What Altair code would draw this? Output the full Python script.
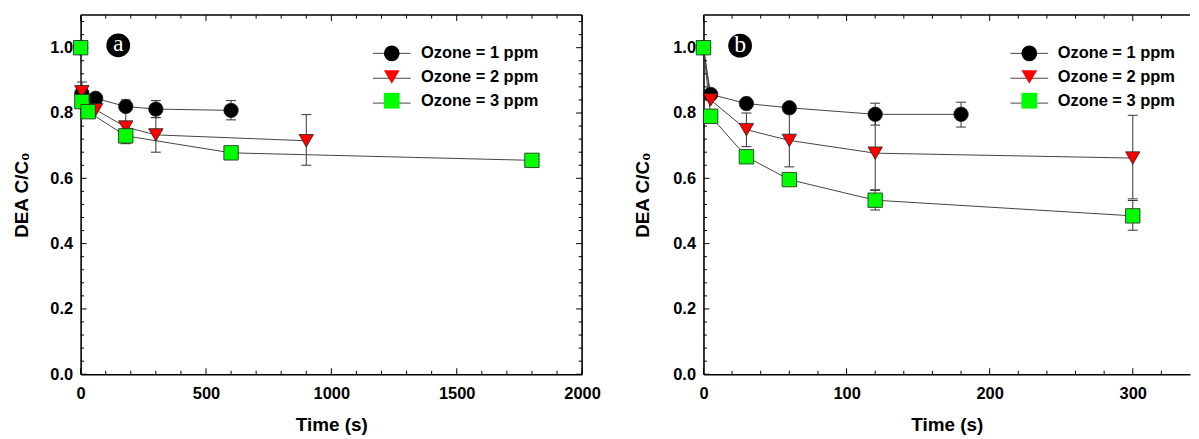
import altair as alt
import pandas as pd

FONT = "Liberation Sans"
SERIES = ["Ozone = 1 ppm", "Ozone = 2 ppm", "Ozone = 3 ppm"]
FILLS = ["#000000", "#ff0000", "#00ff00"]
SHAPES = ["circle", "triangle-down", "square"]

# ---------------- panel a data ----------------
a_t1 = [0, 5, 60, 180, 300, 600]
a_v1 = [1.0, 0.86, 0.845, 0.82, 0.812, 0.808]
a_t2 = [0, 5, 60, 180, 300, 900]
a_v2 = [1.0, 0.865, 0.81, 0.757, 0.733, 0.715]
a_t3 = [0, 5, 30, 180, 600, 1800]
a_v3 = [1.0, 0.835, 0.804, 0.73, 0.678, 0.655]

a_err_series = ["Ozone = 1 ppm", "Ozone = 1 ppm", "Ozone = 1 ppm",
                "Ozone = 2 ppm", "Ozone = 2 ppm", "Ozone = 2 ppm", "Ozone = 3 ppm"]
a_err_t = [180, 300, 600, 5, 300, 900, 180]
a_err_lo = [0.77, 0.786, 0.779, 0.84, 0.68, 0.64, 0.706]
a_err_hi = [0.84, 0.838, 0.838, 0.895, 0.786, 0.795, 0.75]

# ---------------- panel b data ----------------
b_t1 = [0, 5, 30, 60, 120, 180]
b_v1 = [1.0, 0.857, 0.829, 0.816, 0.796, 0.796]
b_t2 = [0, 5, 30, 60, 120, 300]
b_v2 = [1.0, 0.84, 0.749, 0.716, 0.677, 0.662]
b_t3 = [0, 5, 30, 60, 120, 300]
b_v3 = [1.0, 0.79, 0.666, 0.596, 0.533, 0.485]

b_err_series = ["Ozone = 1 ppm", "Ozone = 1 ppm",
                "Ozone = 2 ppm", "Ozone = 2 ppm", "Ozone = 2 ppm", "Ozone = 2 ppm",
                "Ozone = 3 ppm", "Ozone = 3 ppm"]
b_err_t = [120, 180, 30, 60, 120, 300, 120, 300]
b_err_lo = [0.763, 0.757, 0.697, 0.635, 0.565, 0.537, 0.503, 0.441]
b_err_hi = [0.83, 0.833, 0.80, 0.80, 0.79, 0.793, 0.563, 0.532]

# axis ticks
y_major = [0.0, 0.2, 0.4, 0.6, 0.8, 1.0]
y_minor = [0.04, 0.08, 0.12, 0.16, 0.24, 0.28, 0.32, 0.36, 0.44, 0.48, 0.52, 0.56,
           0.64, 0.68, 0.72, 0.76, 0.84, 0.88, 0.92, 0.96, 1.04, 1.08]
a_x_major = [0, 500, 1000, 1500, 2000]
a_x_minor = [100, 200, 300, 400, 600, 700, 800, 900, 1100, 1200, 1300, 1400,
             1600, 1700, 1800, 1900]
b_x_major = [0, 100, 200, 300]
b_x_minor = [20, 40, 60, 80, 120, 140, 160, 180, 220, 240, 260, 280, 320]

# panel letters
a_letter = {"t": [150], "v": [1.007], "lab": ["a"]}
b_letter = {"t": [25.6], "v": [1.006], "lab": ["b"]}


def long_df(ts, vs):
    rows = []
    for name, tl, vl in zip(SERIES, ts, vs):
        for t, v in zip(tl, vl):
            rows.append({"series": name, "series_l": name, "t": t, "v": v})
    return pd.DataFrame(rows)


def panel(pts, errs, xdom, xmajor, xminor, W, H, letter, legend_x, label_offset,
          right_frame, title_pad):
    xs = alt.Scale(domain=xdom, nice=False, zero=False)
    ys = alt.Scale(domain=[0, 1.1], nice=False, zero=False)
    xaxis = alt.Axis(values=xmajor, format="d", ticks=False, domain=True,
                     domainColor="black", domainWidth=1.6, grid=False, labelFlush=False,
                     labelFont=FONT, labelFontSize=16.5, labelFontWeight="bold",
                     labelColor="black", labelPadding=11, title="Time (s)",
                     titleFont=FONT, titleFontSize=19, titleFontWeight="bold",
                     titleColor="black", titlePadding=14)
    yaxis = alt.Axis(values=y_major, format=".1f", ticks=False, domain=True,
                     domainColor="black", domainWidth=1.6, grid=False, labelFlush=False,
                     labelFont=FONT, labelFontSize=16.5, labelFontWeight="bold",
                     labelColor="black", labelPadding=8, title="DEA C/C\u2080",
                     titleFont=FONT, titleFontSize=19, titleFontWeight="bold",
                     titleColor="black", titlePadding=title_pad)

    def X(field):
        return alt.X(field, scale=xs, axis=xaxis)

    def Y(field):
        return alt.Y(field, scale=ys, axis=yaxis)

    common_leg = dict(title=None, orient="none", legendX=legend_x,
                      symbolSize=250, labelFont=FONT, labelFontSize=16.5,
                      labelFontWeight="bold", labelColor="black",
                      labelOffset=label_offset, padding=0)

    base = alt.Chart(pts)
    lines = base.mark_line(strokeWidth=1).encode(
        x=X("t:Q"), y=Y("v:Q"),
        stroke=alt.Stroke("series_l:N", scale=alt.Scale(range=["#444444"] * 3),
                          legend=alt.Legend(symbolType="M-2.4,0H2.4",
                                            symbolStrokeWidth=1, labelExpr="''",
                                            legendY=30, rowPadding=8.0,
                                            zindex=0, **common_leg)),
    )
    pleg = alt.Legend(symbolStrokeColor="#222222", symbolStrokeWidth=0.8,
                      symbolOpacity=1, zindex=1, legendY=30, rowPadding=4.8,
                      **common_leg)
    points = base.mark_point(filled=True, size=210, opacity=1, stroke="#222222",
                             strokeWidth=0.8).encode(
        x=X("t:Q"), y=Y("v:Q"),
        fill=alt.Fill("series:N", scale=alt.Scale(domain=SERIES, range=FILLS), legend=pleg),
        shape=alt.Shape("series:N", scale=alt.Scale(domain=SERIES, range=SHAPES), legend=pleg),
    )
    ebase = alt.Chart(errs)
    err_rule = ebase.mark_rule(color="#333333", strokeWidth=1).encode(
        x=X("t:Q"), y=Y("lo:Q"), y2="hi:Q",
    )
    err_cap = ebase.transform_fold(["lo", "hi"], as_=["k", "yv"]).mark_rule(
        color="#333333", strokeWidth=1, xOffset=-5, x2Offset=5).encode(
        x=X("t:Q"), x2="t:Q", y=Y("yv:Q"),
    )

    # inward ticks
    ymaj = pd.DataFrame({"v": y_major})
    ymin = pd.DataFrame({"v": y_minor})
    xmaj = pd.DataFrame({"t": xmajor})
    xmin = pd.DataFrame({"t": xminor})
    tick_layers = []
    sides = [(0, 1)]
    if right_frame:
        sides.append((W, -1))
    for x0, sgn in sides:
        for df, ln in ((ymaj, 6), (ymin, 3.5)):
            tick_layers.append(alt.Chart(df).mark_rule(color="black", strokeWidth=1).encode(
                y=Y("v:Q"), x=alt.value(x0), x2=alt.value(x0 + sgn * ln)))
    for y0, sgn in ((H, -1), (0, 1)):
        for df, ln in ((xmaj, 6), (xmin, 3.5)):
            tick_layers.append(alt.Chart(df).mark_rule(color="black", strokeWidth=1).encode(
                x=X("t:Q"), y=alt.value(y0), y2=alt.value(y0 + sgn * ln)))

    frame_df = pd.DataFrame({"k": [0]})
    frames = [alt.Chart(frame_df).mark_rule(color="black", strokeWidth=1.6).encode(
        x=alt.value(0), x2=alt.value(W), y=alt.value(0))]
    if right_frame:
        frames.append(alt.Chart(frame_df).mark_rule(color="black", strokeWidth=1.6).encode(
            x=alt.value(W), y=alt.value(0), y2=alt.value(H)))

    ldf = pd.DataFrame(letter)
    lb = alt.Chart(ldf)
    lcirc = lb.mark_point(filled=True, color="black", opacity=1, size=570, shape="circle").encode(
        x=X("t:Q"), y=Y("v:Q"))
    ltext = lb.mark_text(color="white", font="Liberation Serif", fontSize=24,
                         baseline="middle", align="center", dy=-1).encode(
        x=X("t:Q"), y=Y("v:Q"), text="lab:N")

    return alt.layer(lines, *tick_layers, *frames, err_rule, err_cap, points,
                     lcirc, ltext).properties(width=W, height=H)


pa_pts = long_df([a_t1, a_t2, a_t3], [a_v1, a_v2, a_v3])
pb_pts = long_df([b_t1, b_t2, b_t3], [b_v1, b_v2, b_v3])
pa_err = pd.DataFrame({"series": a_err_series, "t": a_err_t, "lo": a_err_lo, "hi": a_err_hi})
pb_err = pd.DataFrame({"series": b_err_series, "t": b_err_t, "lo": b_err_lo, "hi": b_err_hi})

pa = panel(pa_pts, pa_err, [0, 2000], a_x_major, a_x_minor, 504, 361, a_letter,
           304.2, 21.0, True, 18)
pb = panel(pb_pts, pb_err, [0, 340], b_x_major, b_x_minor, 489, 361, b_letter,
           319.0, 20.0, False, 20)

chart = alt.hconcat(pa, pb, spacing=33).resolve_scale(
    x="independent", y="independent", fill="independent", shape="independent",
    stroke="independent").resolve_legend(
    fill="independent", shape="independent", stroke="independent").properties(
    padding={"left": 5, "top": 5, "right": 0, "bottom": 0}).configure_view(stroke=None)

chart.save("out.html", embed_options={"renderer": "svg", "actions": False})
